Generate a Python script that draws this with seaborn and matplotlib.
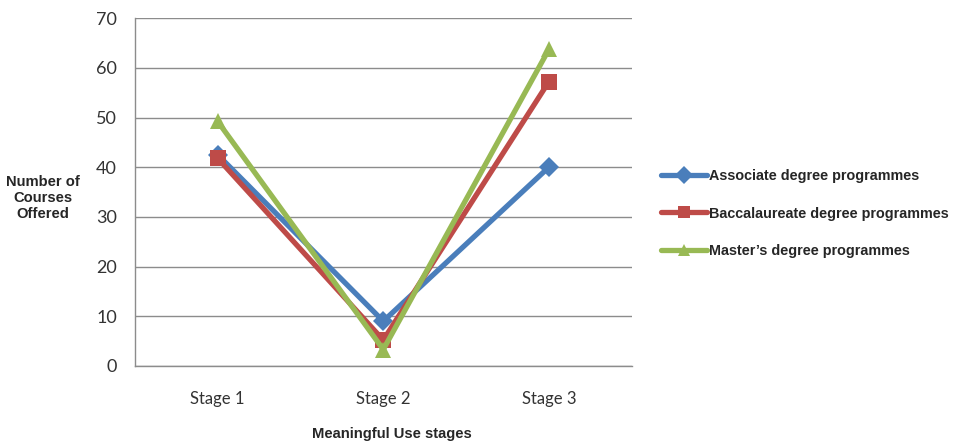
import pandas as pd
import numpy as np
import matplotlib
matplotlib.use("Agg")
import matplotlib.pyplot as plt
import seaborn as sns

# Data
stages = ["Stage 1", "Stage 2", "Stage 3"]
associate = [42.5, 9, 40]
baccalaureate = [41.8, 5.2, 57.2]
masters = [49.2, 3.3, 63.7]

programmes = ["Associate degree programmes",
              "Baccalaureate degree programmes",
              "Master’s degree programmes"]
colors = ["#4A7EBB", "#BE4B48", "#98B954"]
markers = ["D", "s", "^"]

df = pd.DataFrame({
    "stage": stages * 3,
    "courses": associate + baccalaureate + masters,
    "programme": np.repeat(programmes, 3),
})

sns.set_style("white")
plt.rcParams["font.family"] = ["Liberation Sans", "DejaVu Sans"]

fig = plt.figure(figsize=(9.57, 4.43), dpi=100)
ax = fig.add_axes([0.141, 0.174, 0.519, 0.785])

sns.lineplot(data=df, x="stage", y="courses", hue="programme", style="programme",
             palette=dict(zip(programmes, colors)),
             markers=dict(zip(programmes, markers)),
             dashes=False, sort=False, linewidth=3.8, markersize=11,
             markeredgewidth=0, ax=ax, legend=False)

# marker sizes tweak per series
for line, ms in zip(ax.get_lines(), [10, 12, 12]):
    line.set_markersize(ms)

ax.set_xlim(-0.5, 2.5)
ax.set_ylim(0, 70)
ax.set_yticks(range(0, 71, 10))
ax.set_xticks([0, 1, 2])
ax.set_xticklabels(stages)
ax.yaxis.grid(True, color="#8c8c8c", linewidth=1)
ax.set_axisbelow(True)

for s in ["top", "right"]:
    ax.spines[s].set_visible(False)
for s in ["left", "bottom"]:
    ax.spines[s].set_color("#8c8c8c")
    ax.spines[s].set_linewidth(1)

ax.tick_params(axis="y", which="major", direction="out", length=5, color="#8c8c8c",
               labelsize=13, pad=8)
ax.tick_params(axis="x", which="major", length=0, labelsize=12, pad=18)
ax.set_xticks([-0.5, 0.5, 1.5, 2.5], minor=True)
ax.tick_params(axis="x", which="minor", direction="out", length=5, color="#8c8c8c")
for lab in ax.get_yticklabels() + ax.get_xticklabels():
    lab.set_fontfamily(["Lato", "DejaVu Sans"])
    lab.set_color("#333333")

ax.set_xlabel("")
ax.set_ylabel("")
fig.text(0.045, 0.553, "Number of\nCourses\nOffered", ha="center", va="center",
         fontsize=10.6, fontweight="bold", linespacing=1.2)
fig.text(0.409, 0.021, "Meaningful Use stages", ha="center", va="center",
         fontsize=10.6, fontweight="bold")

handles = [plt.Line2D([], [], color=c, marker=m, linewidth=3.8, markersize=9,
                      markeredgewidth=0) for c, m in zip(colors, markers)]
fig.legend(handles, programmes, loc="center left", bbox_to_anchor=(0.677, 0.518),
           frameon=False, handlelength=3.2, handletextpad=0.15, labelspacing=1.6,
           prop={"weight": "bold", "size": 10.4})

fig.savefig("out.png", dpi=100)
